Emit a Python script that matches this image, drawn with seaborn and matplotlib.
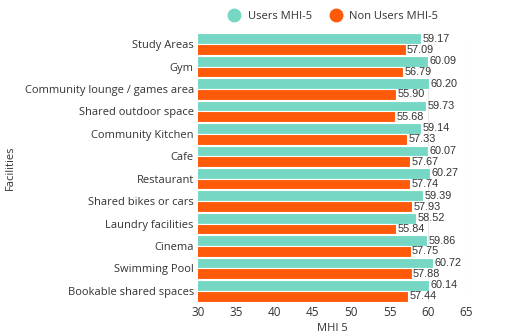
import matplotlib
matplotlib.use("Agg")
import matplotlib.pyplot as plt
from matplotlib.lines import Line2D
import seaborn as sns
import pandas as pd

facilities = [
    "Study Areas", "Gym", "Community lounge / games area", "Shared outdoor space",
    "Community Kitchen", "Cafe", "Restaurant", "Shared bikes or cars",
    "Laundry facilities", "Cinema", "Swimming Pool", "Bookable shared spaces",
]
users_mhi5 = [59.17, 60.09, 60.20, 59.73, 59.14, 60.07, 60.27, 59.39, 58.52, 59.86, 60.72, 60.14]
non_users_mhi5 = [57.09, 56.79, 55.90, 55.68, 57.33, 57.67, 57.74, 57.93, 55.84, 57.75, 57.88, 57.44]
series_names = ["Users MHI-5", "Non Users MHI-5"]
x_ticks = [30, 35, 40, 45, 50, 55, 60, 65]

colors = ["#76D8C4", "#FF5A0A"]

df = pd.DataFrame({
    "Facilities": facilities * 2,
    "MHI 5": users_mhi5 + non_users_mhi5,
    "Group": [series_names[0]] * len(facilities) + [series_names[1]] * len(facilities),
})

sns.set_style("white")
plt.rcParams["font.family"] = ["Open Sans", "DejaVu Sans"]

fig = plt.figure(figsize=(5.05, 3.36), dpi=100)
ax = fig.add_axes([0.392, 0.101, 0.531, 0.801])

sns.barplot(
    data=df, y="Facilities", x="MHI 5", hue="Group", order=facilities,
    hue_order=series_names, palette=colors, saturation=1, orient="h", width=0.96,
    edgecolor="white", linewidth=0.8, ax=ax, legend=False,
)

ax.set_xlim(30, 65)
ax.set_xticks(x_ticks)
ax.set_xticklabels([str(t) for t in x_ticks], fontsize=8.5, color="#333333")
ax.tick_params(axis="y", labelsize=8, colors="#333333", length=0, pad=3)
ax.tick_params(axis="x", length=0, pad=3)
ax.set_ylim(len(facilities) - 0.5, -0.5)
ax.grid(axis="x", color="#e6e6e6", linewidth=0.8)
ax.set_axisbelow(True)
for s in ax.spines.values():
    s.set_visible(False)

ax.set_xlabel("MHI 5", fontsize=8, color="#333333", labelpad=3)
ax.set_ylabel("Facilities", fontsize=8, color="#333333", labelpad=6)

for cont in ax.containers:
    ax.bar_label(cont, labels=[f"{v:.2f}" for v in cont.datavalues],
                 padding=1, fontsize=7.8, color="#333333",
                 family=["Liberation Sans", "DejaVu Sans"])

handles = [Line2D([0], [0], marker="o", linestyle="", markersize=9,
                  markerfacecolor=c, markeredgecolor=c) for c in colors]
fig.legend(handles, series_names, loc="center", bbox_to_anchor=(0.655, 0.95),
           ncol=2, frameon=False, fontsize=8, handletextpad=0.2,
           columnspacing=1.2, labelcolor="#333333")

fig.savefig("out.png", dpi=100)
